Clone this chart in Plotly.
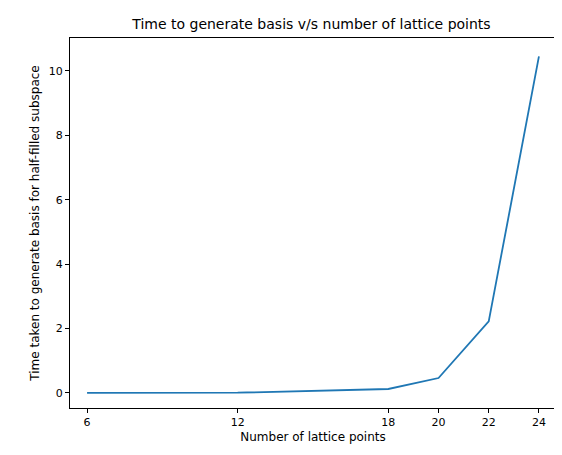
import plotly.graph_objects as go

lattice_points = [6, 12, 18, 20, 22, 24]
basis_time = [0.0, 0.005, 0.12, 0.46, 2.22, 10.45]
x_ticks = [6, 12, 18, 20, 22, 24]
y_ticks = [0, 2, 4, 6, 8, 10]

fig = go.Figure(go.Scatter(
    x=lattice_points, y=basis_time,
    mode="lines",
    line=dict(color="#1f77b4", width=1.8)
))

fig.update_layout(
    title=dict(text="Time to generate basis v/s number of lattice points",
               x=0.54, xanchor="center", y=0.975, yanchor="top",
               font=dict(size=14, color="black")),
    font=dict(family="DejaVu Sans", color="black"),
    width=562, height=455,
    margin=dict(l=62, r=14, t=30, b=55, autoexpand=False),
    plot_bgcolor="white", paper_bgcolor="white",
    showlegend=False,
)
fig.update_xaxes(range=[5.32, 24.68], tickvals=x_ticks, automargin=False,
                 title=dict(text="Number of lattice points", font=dict(size=12), standoff=4))
fig.update_yaxes(range=[-0.47, 11.02], tickvals=y_ticks, automargin=False,
                 title=dict(text="Time taken to generate basis for half-filled subspace",
                            font=dict(size=12), standoff=6))
fig.update_xaxes(showline=True, linecolor="black", linewidth=1, mirror=True,
                 ticks="outside", ticklen=4, tickcolor="black",
                 showgrid=False, zeroline=False, tickfont=dict(size=11, color="black"))
fig.update_yaxes(showline=True, linecolor="black", linewidth=1, mirror=True,
                 ticks="outside", ticklen=4, tickcolor="black",
                 showgrid=False, zeroline=False, tickfont=dict(size=11, color="black"))

fig.write_html("out.html")
